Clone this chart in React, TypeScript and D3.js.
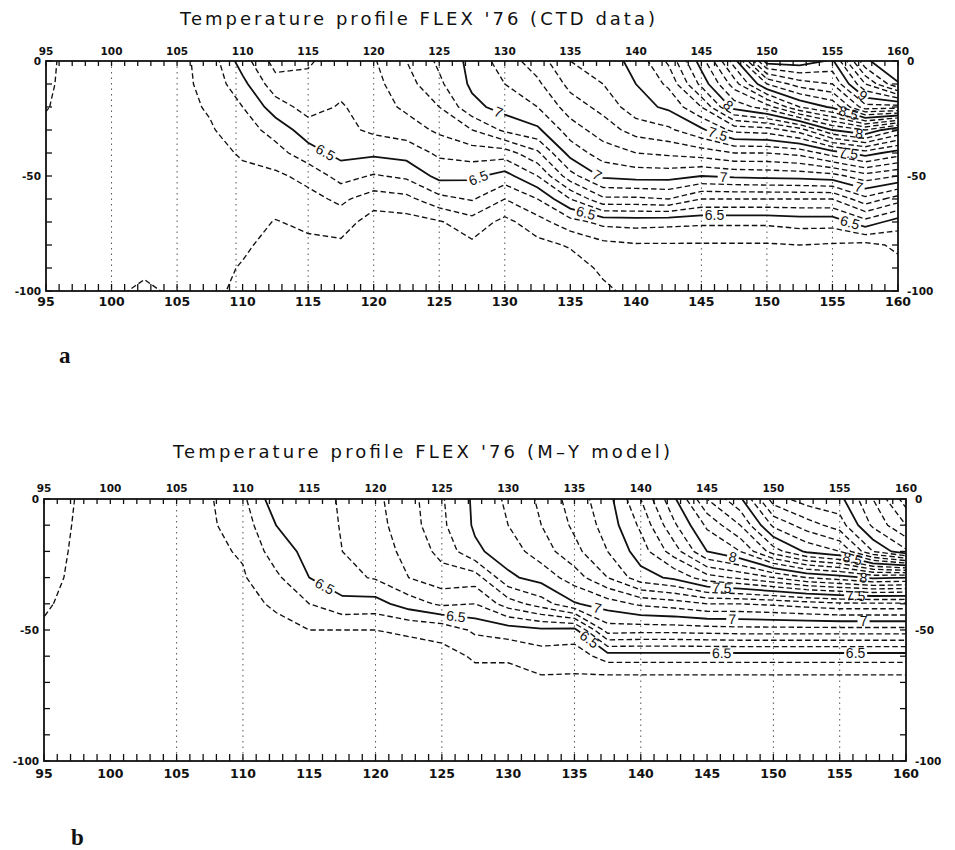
import React from 'react';
import * as d3 from 'd3';

// ---------------- DATA ----------------
const lonGrid = [95, 97.5, 100, 102.5, 105, 107.5, 110, 112.5, 115, 117.5, 120, 122.5, 125, 127.5, 130, 132.5, 135, 137.5, 140, 142.5, 145, 147.5, 150, 152.5, 155, 157.5, 160];
const depthGrid = [0, -10, -20, -30, -40, -50, -60, -70, -80, -90, -100];

// temperature (deg C) per station column, top to bottom (0 .. -100)
const ctdTemp: number[][] = [
  [6.32, 6.315, 6.305, 6.28, 6.27, 6.26, 6.25, 6.25, 6.24, 6.24, 6.23],
  [6.26, 6.26, 6.26, 6.25, 6.25, 6.24, 6.24, 6.23, 6.23, 6.22, 6.22],
  [6.26, 6.26, 6.25, 6.25, 6.24, 6.24, 6.23, 6.23, 6.22, 6.22, 6.21],
  [6.26, 6.26, 6.25, 6.25, 6.24, 6.24, 6.23, 6.23, 6.22, 6.21, 6.19],
  [6.27, 6.27, 6.27, 6.26, 6.25, 6.25, 6.24, 6.23, 6.22, 6.22, 6.21],
  [6.34, 6.33, 6.31, 6.29, 6.27, 6.26, 6.25, 6.24, 6.23, 6.22, 6.21],
  [6.55, 6.47, 6.4, 6.35, 6.31, 6.28, 6.26, 6.24, 6.21, 6.195, 6.19],
  [6.74, 6.66, 6.55, 6.44, 6.36, 6.28, 6.24, 6.195, 6.18, 6.17, 6.16],
  [6.71, 6.68, 6.64, 6.55, 6.46, 6.33, 6.27, 6.22, 6.18, 6.17, 6.16],
  [6.66, 6.63, 6.59, 6.57, 6.53, 6.44, 6.32, 6.25, 6.18, 6.16, 6.15],
  [6.69, 6.67, 6.65, 6.62, 6.52, 6.39, 6.25, 6.15, 6.12, 6.1, 6.08],
  [6.8, 6.76, 6.72, 6.65, 6.54, 6.42, 6.27, 6.16, 6.12, 6.1, 6.08],
  [6.92, 6.88, 6.8, 6.72, 6.62, 6.53, 6.37, 6.19, 6.13, 6.11, 6.09],
  [7.03, 7.02, 6.97, 6.8, 6.65, 6.52, 6.41, 6.26, 6.18, 6.14, 6.12],
  [7.15, 7.1, 7.04, 6.92, 6.65, 6.46, 6.3, 6.17, 6.13, 6.1, 6.08],
  [7.25, 7.18, 7.1, 6.98, 6.78, 6.6, 6.4, 6.26, 6.17, 6.13, 6.1],
  [7.4, 7.33, 7.25, 7.15, 7.04, 6.86, 6.6, 6.36, 6.21, 6.15, 6.12],
  [7.45, 7.4, 7.33, 7.25, 7.15, 7.02, 6.78, 6.43, 6.27, 6.22, 6.18],
  [7.53, 7.5, 7.46, 7.34, 7.2, 7.04, 6.78, 6.44, 6.29, 6.25, 6.23],
  [7.72, 7.62, 7.52, 7.38, 7.22, 7.04, 6.8, 6.43, 6.29, 6.25, 6.23],
  [8.05, 7.93, 7.7, 7.48, 7.25, 7.0, 6.7, 6.42, 6.29, 6.25, 6.23],
  [8.45, 8.25, 8.04, 7.63, 7.3, 7.02, 6.7, 6.42, 6.29, 6.25, 6.23],
  [9.05, 8.6, 8.15, 7.65, 7.3, 7.03, 6.7, 6.42, 6.29, 6.25, 6.23],
  [9.06, 8.75, 8.4, 7.75, 7.33, 7.04, 6.7, 6.44, 6.3, 6.25, 6.23],
  [8.98, 8.8, 8.52, 8.0, 7.45, 7.06, 6.7, 6.44, 6.29, 6.25, 6.23],
  [9.48, 9.2, 8.86, 8.1, 7.55, 7.16, 6.87, 6.56, 6.27, 6.24, 6.22],
  [9.6, 9.49, 8.85, 7.9, 7.45, 7.1, 6.75, 6.45, 6.32, 6.27, 6.24],
];

const modelTemp: number[][] = [
  [6.36, 6.35, 6.34, 6.33, 6.31, 6.29, 6.27, 6.26, 6.25, 6.25, 6.25],
  [6.295, 6.29, 6.285, 6.28, 6.275, 6.27, 6.26, 6.25, 6.25, 6.25, 6.25],
  [6.28, 6.28, 6.27, 6.27, 6.26, 6.26, 6.25, 6.25, 6.25, 6.25, 6.25],
  [6.28, 6.28, 6.27, 6.27, 6.26, 6.26, 6.25, 6.25, 6.25, 6.25, 6.25],
  [6.285, 6.28, 6.275, 6.27, 6.265, 6.26, 6.25, 6.25, 6.25, 6.25, 6.25],
  [6.29, 6.285, 6.28, 6.275, 6.27, 6.26, 6.255, 6.25, 6.25, 6.25, 6.25],
  [6.38, 6.35, 6.31, 6.29, 6.28, 6.27, 6.26, 6.25, 6.25, 6.25, 6.25],
  [6.56, 6.5, 6.45, 6.38, 6.31, 6.28, 6.27, 6.26, 6.25, 6.25, 6.25],
  [6.58, 6.56, 6.53, 6.5, 6.4, 6.3, 6.27, 6.26, 6.25, 6.25, 6.25],
  [6.605, 6.605, 6.6, 6.57, 6.47, 6.3, 6.27, 6.26, 6.25, 6.25, 6.25],
  [6.68, 6.67, 6.65, 6.61, 6.46, 6.3, 6.27, 6.26, 6.25, 6.25, 6.25],
  [6.76, 6.75, 6.73, 6.7, 6.55, 6.31, 6.27, 6.26, 6.25, 6.25, 6.25],
  [6.89, 6.88, 6.83, 6.76, 6.62, 6.33, 6.27, 6.26, 6.25, 6.25, 6.25],
  [7.02, 7.015, 6.98, 6.75, 6.6, 6.42, 6.31, 6.27, 6.26, 6.25, 6.25],
  [7.12, 7.1, 7.05, 6.98, 6.75, 6.45, 6.31, 6.27, 6.26, 6.25, 6.25],
  [7.22, 7.2, 7.15, 7.04, 6.85, 6.48, 6.35, 6.28, 6.26, 6.25, 6.25],
  [7.35, 7.32, 7.27, 7.15, 6.99, 6.47, 6.34, 6.28, 6.26, 6.25, 6.25],
  [7.46, 7.44, 7.4, 7.3, 7.05, 6.85, 6.45, 6.24, 6.24, 6.24, 6.24],
  [7.7, 7.62, 7.55, 7.46, 7.12, 6.84, 6.45, 6.24, 6.24, 6.24, 6.24],
  [7.98, 7.88, 7.75, 7.52, 7.15, 6.84, 6.45, 6.24, 6.24, 6.24, 6.24],
  [8.3, 8.12, 8.0, 7.66, 7.2, 6.85, 6.45, 6.24, 6.24, 6.24, 6.24],
  [8.48, 8.3, 8.1, 7.72, 7.2, 6.86, 6.45, 6.24, 6.24, 6.24, 6.24],
  [8.85, 8.62, 8.35, 7.8, 7.22, 6.86, 6.45, 6.24, 6.24, 6.24, 6.24],
  [8.95, 8.75, 8.52, 7.9, 7.25, 6.86, 6.45, 6.24, 6.24, 6.24, 6.24],
  [8.97, 8.85, 8.6, 7.95, 7.28, 6.86, 6.45, 6.24, 6.24, 6.24, 6.24],
  [9.2, 9.12, 8.9, 8.02, 7.28, 6.86, 6.45, 6.24, 6.24, 6.24, 6.24],
  [9.45, 9.3, 9.08, 8.0, 7.28, 6.86, 6.45, 6.24, 6.24, 6.24, 6.24],
];

const isotherms = [6.2, 6.3, 6.4, 6.5, 6.6, 6.7, 6.8, 6.9, 7.0, 7.1, 7.2, 7.3, 7.4, 7.5, 7.6, 7.7, 7.8, 7.9, 8.0, 8.1, 8.2, 8.3, 8.4, 8.5, 8.6, 8.7, 8.8, 8.9, 9.0, 9.1, 9.2, 9.3, 9.4, 9.5];

// contour labels: isotherm, approximate longitude and depth of the label
const ctdLabels = [
  { t: 6.5, lon: 116.2, depth: -41 },
  { t: 6.5, lon: 128, depth: -51 },
  { t: 6.5, lon: 136.2, depth: -66 },
  { t: 6.5, lon: 146, depth: -65 },
  { t: 6.5, lon: 156.4, depth: -69 },
  { t: 7, lon: 129.4, depth: -24 },
  { t: 7, lon: 136.9, depth: -51 },
  { t: 7, lon: 146.7, depth: -51 },
  { t: 7, lon: 157, depth: -55 },
  { t: 7.5, lon: 146.3, depth: -31 },
  { t: 7.5, lon: 156.2, depth: -41 },
  { t: 8, lon: 146.9, depth: -20 },
  { t: 8, lon: 157, depth: -33 },
  { t: 8.5, lon: 156.2, depth: -23 },
  { t: 9, lon: 157, depth: -17 },
];
const modelLabels = [
  { t: 6.5, lon: 116.2, depth: -33 },
  { t: 6.5, lon: 126.1, depth: -43 },
  { t: 6.5, lon: 136.2, depth: -53 },
  { t: 6.5, lon: 146.1, depth: -59 },
  { t: 6.5, lon: 156.2, depth: -59 },
  { t: 7, lon: 136.8, depth: -40 },
  { t: 7, lon: 146.9, depth: -45 },
  { t: 7, lon: 156.8, depth: -45.5 },
  { t: 7.5, lon: 146.1, depth: -35.5 },
  { t: 7.5, lon: 156.2, depth: -37.4 },
  { t: 8, lon: 146.9, depth: -23.3 },
  { t: 8, lon: 156.8, depth: -29.4 },
  { t: 8.5, lon: 156, depth: -22 },
];

const ctdStations = [100, 105, 109.5, 115, 120, 125, 130, 145, 150, 155];
const modelStations = [105, 110, 120, 125, 135, 140, 150, 155];
const lonTickLabels = [95, 100, 105, 110, 115, 120, 125, 130, 135, 140, 145, 150, 155, 160];
const depthTickLabels = [0, -50, -100];

// ---------------- DRAWING ----------------
const W = 955;
const H = 850;
const isMajor = (v: number) => Math.abs(v * 2 - Math.round(v * 2)) < 1e-6;
const fmt = (v: number) => (Math.abs(v - Math.round(v)) < 1e-6 ? String(Math.round(v)) : v.toFixed(1));

type Lab = { t: number; lon: number; depth: number };

interface PanelProps {
  id: string;
  temps: number[][];
  labels: Lab[];
  stations: number[];
  L: number; T: number; R: number; B: number;
  title: string; titleX: number; titleY: number; titleW: number;
  topDy: number; botDy: number;
}

function Panel(p: PanelProps) {
  const { id, temps, labels, stations, L, T, R, B } = p;
  const x = d3.scaleLinear().domain([95, 160]).range([L, R]);
  const y = d3.scaleLinear().domain([0, -100]).range([T, B]);
  const n = lonGrid.length;
  const m = depthGrid.length;
  const gx = d3.scaleLinear().domain([0.5, n - 0.5]).range([lonGrid[0], lonGrid[n - 1]]);
  const gy = d3.scaleLinear().domain([0.5, m - 0.5]).range([depthGrid[0], depthGrid[m - 1]]);
  const values: number[] = new Array(n * m);
  for (let i = 0; i < n; i++) for (let j = 0; j < m; j++) values[j * n + i] = temps[i][j];
  const gen = d3.contours().size([n, m]).smooth(true);
  const proj = d3.geoTransform({
    point(px: number, py: number) {
      (this as any).stream.point(x(gx(px)), y(gy(py)));
    },
  });
  const path = d3.geoPath(proj as any);
  const lines = isotherms.map((lv) => {
    const c = gen.contour(values, lv + 1e-7);
    const rings: [number, number][][] = [];
    (c.coordinates as any).forEach((poly: any) =>
      poly.forEach((ring: any) => rings.push(ring.map((pt: number[]) => [x(gx(pt[0])), y(gy(pt[1]))] as [number, number])))
    );
    return { lv, d: path(c as any) || '', rings, major: isMajor(lv) };
  });

  // place labels on the contour nearest to the given point
  const placed = labels.map((lab) => {
    const line = lines.find((l) => Math.abs(l.lv - lab.t) < 1e-6)!;
    const tx = x(lab.lon);
    const ty = y(lab.depth);
    let best = { d: Infinity, px: tx, py: ty, ang: 0 };
    line.rings.forEach((ring) => {
      for (let k = 0; k < ring.length - 1; k++) {
        const [x1, y1] = ring[k];
        const [x2, y2] = ring[k + 1];
        const dx = x2 - x1, dy = y2 - y1;
        const len2 = dx * dx + dy * dy;
        if (len2 === 0) continue;
        let u = ((tx - x1) * dx + (ty - y1) * dy) / len2;
        u = Math.max(0, Math.min(1, u));
        const px = x1 + u * dx, py = y1 + u * dy;
        if (px < L + 2 || px > R - 2 || py < T + 2 || py > B - 2) continue;
        const dd = (px - tx) ** 2 + (py - ty) ** 2;
        if (dd < best.d) {
          let ang = (Math.atan2(dy, dx) * 180) / Math.PI;
          if (ang > 90) ang -= 180;
          if (ang < -90) ang += 180;
          best = { d: dd, px, py, ang };
        }
      }
    });
    const txt = fmt(lab.t);
    const w = txt.length === 1 ? 12 : 23;
    return { ...best, txt, w, t: lab.t };
  });

  const majorLevels = lines.filter((l) => l.major).map((l) => l.lv);
  const xMinor = x.ticks(65);
  const yMinor = y.ticks(10);
  const clipId = `${id}-clip`;

  return (
    <g>
      <defs>
        <clipPath id={clipId}>
          <rect x={L} y={T} width={R - L} height={B - T} />
        </clipPath>
        {majorLevels.map((lv, k) => (
          <mask id={`${id}-mask-${k}`} key={k} maskUnits="userSpaceOnUse" x={0} y={0} width={W} height={H}>
            <rect x={0} y={0} width={W} height={H} fill="white" />
            {placed
              .filter((pl) => Math.abs(pl.t - lv) < 1e-6)
              .map((pl, q) => (
                <rect key={q} x={-pl.w / 2} y={-7} width={pl.w} height={14} fill="black"
                  transform={`translate(${pl.px},${pl.py}) rotate(${pl.ang})`} />
              ))}
          </mask>
        ))}
      </defs>

      <text x={p.titleX} y={p.titleY} fontFamily="DejaVu Sans, sans-serif" fontSize={18} fill="#111"
        textLength={p.titleW} lengthAdjust="spacing">{p.title}</text>

      {/* station lines */}
      {stations.map((s, k) => (
        <line key={k} x1={x(s)} x2={x(s)} y1={T} y2={B} stroke="#555" strokeWidth={1} strokeDasharray="1.5,4" />
      ))}

      {/* contours */}
      <g clipPath={`url(#${clipId})`} fill="none" stroke="#111">
        {lines.map((l, k) => {
          const mi = majorLevels.indexOf(l.lv);
          return (
            <path key={k} d={l.d} strokeWidth={l.major ? 1.8 : 1.35}
              strokeDasharray={l.major ? undefined : '5.5,3'}
              mask={l.major ? `url(#${id}-mask-${mi})` : undefined} />
          );
        })}
      </g>

      {placed.map((pl, k) => (
        <text key={k} transform={`translate(${pl.px},${pl.py}) rotate(${pl.ang})`} textAnchor="middle" dy="0.36em"
          fontFamily="Liberation Sans, Arial, sans-serif" fontSize={14} fill="#111">{pl.txt}</text>
      ))}

      {/* frame */}
      <rect x={L} y={T} width={R - L} height={B - T} fill="none" stroke="#111" strokeWidth={1.8} />
      {xMinor.map((v, k) => (
        <g key={k} stroke="#111" strokeWidth={1.3}>
          <line x1={x(v)} x2={x(v)} y1={T} y2={T + 5} />
          <line x1={x(v)} x2={x(v)} y1={B} y2={B - 7} />
        </g>
      ))}
      {yMinor.map((v, k) => (
        <g key={k} stroke="#111" strokeWidth={1.3}>
          <line x1={L} x2={L + 6} y1={y(v)} y2={y(v)} />
          <line x1={R} x2={R - 6} y1={y(v)} y2={y(v)} />
        </g>
      ))}
      {lonTickLabels.map((v, k) => (
        <g key={k} fontFamily="DejaVu Sans, sans-serif" fill="#111" textAnchor="middle" fontWeight="bold">
          <text x={x(v)} y={T - p.topDy} fontSize={10.5}>{v}</text>
          <text x={x(v)} y={B + p.botDy} fontSize={12.5}>{v}</text>
        </g>
      ))}
      {depthTickLabels.map((v, k) => (
        <g key={k} fontFamily="DejaVu Sans, sans-serif" fill="#111" fontSize={10.5} fontWeight="bold">
          <text x={L - 5} y={y(v)} dy="0.35em" textAnchor="end">{v === 0 ? '0' : '-' + Math.abs(v)}</text>
          <text x={R + 9} y={y(v)} dy="0.35em" textAnchor="start">{v === 0 ? '0' : '-' + Math.abs(v)}</text>
        </g>
      ))}
    </g>
  );
}

export default function App() {
  return (
    <svg width={W} height={H} style={{ position: 'absolute', left: 0, top: 0, background: '#fff' }}>
      <rect x={0} y={0} width={W} height={H} fill="#fff" />
      <Panel id="a" temps={ctdTemp} labels={ctdLabels} stations={ctdStations}
        L={46} T={61} R={898} B={291}
        title="Temperature profile FLEX '76 (CTD data)" titleX={180} titleY={25} titleW={475}
        topDy={6} botDy={15} />
      <Panel id="b" temps={modelTemp} labels={modelLabels} stations={modelStations}
        L={44} T={499} R={906} B={761}
        title="Temperature profile FLEX '76 (M–Y model)" titleX={173} titleY={458} titleW={497}
        topDy={7} botDy={17} />
      <text x={59} y={363} fontFamily="Liberation Serif, serif" fontWeight="bold" fontSize={23} fill="#111">a</text>
      <text x={71} y={845} fontFamily="Liberation Serif, serif" fontWeight="bold" fontSize={23} fill="#111">b</text>
    </svg>
  );
}
